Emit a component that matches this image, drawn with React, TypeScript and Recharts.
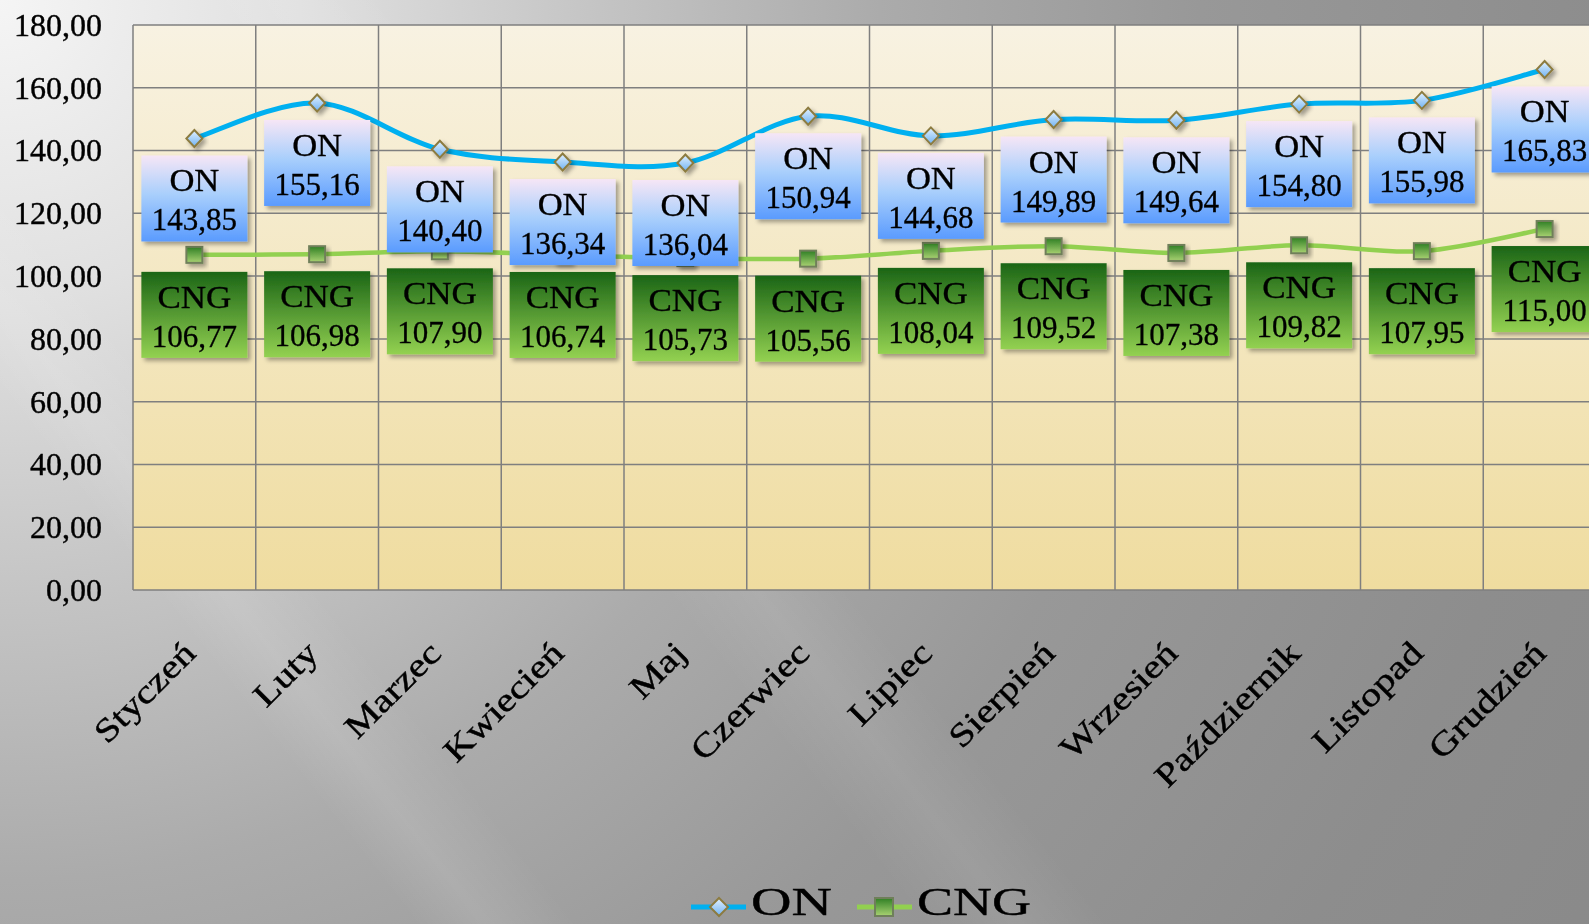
import React from 'react';
import { LineChart, Line, XAxis, YAxis, CartesianGrid, Legend, LabelList } from 'recharts';

const months = ['Styczeń', 'Luty', 'Marzec', 'Kwiecień', 'Maj', 'Czerwiec', 'Lipiec', 'Sierpień', 'Wrzesień', 'Październik', 'Listopad', 'Grudzień'];
const onValues = [143.85, 155.16, 140.40, 136.34, 136.04, 150.94, 144.68, 149.89, 149.64, 154.80, 155.98, 165.83];
const cngValues = [106.77, 106.98, 107.90, 106.74, 105.73, 105.56, 108.04, 109.52, 107.38, 109.82, 107.95, 115.00];
const yTicks = [0, 20, 40, 60, 80, 100, 120, 140, 160, 180];
const seriesNames = ['ON', 'CNG'];

const data = months.map((m, i) => ({ month: m, on: onValues[i], cng: cngValues[i] }));

const FONT = '"Liberation Serif", "Times New Roman", serif';
const fmt = (v: number) => v.toFixed(2).replace('.', ',');

// Excel-like smoothing (Catmull-Rom via cubic Bezier, tension 1/6)
const excelSmooth = (context: any) => {
  let pts: number[][] = [];
  return {
    areaStart() {},
    areaEnd() {},
    lineStart() { pts = []; },
    point(x: number, y: number) { pts.push([+x, +y]); },
    lineEnd() {
      if (!pts.length) return;
      context.moveTo(pts[0][0], pts[0][1]);
      for (let i = 0; i < pts.length - 1; i++) {
        const p0 = pts[i - 1] || pts[i];
        const p1 = pts[i];
        const p2 = pts[i + 1];
        const p3 = pts[i + 2] || p2;
        context.bezierCurveTo(
          p1[0] + (p2[0] - p0[0]) / 6, p1[1] + (p2[1] - p0[1]) / 6,
          p2[0] - (p3[0] - p1[0]) / 6, p2[1] - (p3[1] - p1[1]) / 6,
          p2[0], p2[1]
        );
      }
    },
  };
};

const YTick = (props: any) => {
  const { x, y, payload } = props;
  return (
    <text x={x} y={y} dy="0.34em" textAnchor="end" fontFamily={FONT} fontSize={32} fill="#000" stroke="#000" strokeWidth={0.4}>
      {fmt(payload.value)}
    </text>
  );
};

const XTick = (props: any) => {
  const { x, y, payload } = props;
  return (
    <g transform={`translate(${x + 3},${y + 65}) rotate(-45) scale(1.22,1)`}>
      <text x={0} y={0} textAnchor="end" fontFamily={FONT} fontSize={33} fill="#000" stroke="#000" strokeWidth={0.45}>
        {payload.value}
      </text>
    </g>
  );
};

const OnDot = (props: any) => {
  const { cx, cy, index } = props;
  if (cx == null || cy == null) return <g key={`ond-${index}`} />;
  return (
    <path
      key={`ond-${index}`}
      d={`M${cx},${cy - 8.5} L${cx + 8},${cy} L${cx},${cy + 8.5} L${cx - 8},${cy} Z`}
      fill="url(#diamondFill)"
      stroke="#8c7b40"
      strokeWidth={2}
      filter="url(#shadow)"
    />
  );
};

const CngDot = (props: any) => {
  const { cx, cy, index } = props;
  if (cx == null || cy == null) return <g key={`cngd-${index}`} />;
  return (
    <rect
      key={`cngd-${index}`}
      x={cx - 8}
      y={cy - 8}
      width={16}
      height={16}
      fill="url(#squareFill)"
      stroke="#6f7f5a"
      strokeWidth={2}
      filter="url(#shadow)"
    />
  );
};

const makeLabel = (name: string, grad: string, nameLen: number) => (props: any) => {
  const { x, y, value, index } = props;
  if (x == null || y == null) return null;
  const w = 106;
  const h = 86;
  const top = y + 17;
  const left = x - w / 2;
  return (
    <g key={`${name}-lbl-${index}`}>
      <rect x={left} y={top} width={w} height={h} fill={`url(#${grad})`} filter="url(#shadow)" />
      <text
        x={x}
        y={top + 36}
        textAnchor="middle"
        fontFamily={FONT}
        fontSize={31}
        fill="#000"
        stroke="#000"
        strokeWidth={0.3}
        textLength={nameLen}
        lengthAdjust="spacingAndGlyphs"
      >
        {name}
      </text>
      <text x={x} y={top + 75} textAnchor="middle" fontFamily={FONT} fontSize={31} fill="#000" stroke="#000" strokeWidth={0.3}>
        {fmt(Number(value))}
      </text>
    </g>
  );
};

const OnLabel = makeLabel('ON', 'onBox', 50);
const CngLabel = makeLabel('CNG', 'cngBox', 74);

const LegendContent = () => (
  <div style={{ height: 64, display: 'flex', justifyContent: 'center' }}>
    <svg width={342} height={64} style={{ display: 'block', overflow: 'visible' }}>
      <line x1={0} y1={47} x2={55} y2={47} stroke="#00b0f0" strokeWidth={5} />
      <path d="M28,38 L37,47 L28,56 L19,47 Z" fill="url(#diamondFill)" stroke="#8c7b40" strokeWidth={2} />
      <text x={60} y={55} fontFamily={FONT} fontSize={40} fill="#000" stroke="#000" strokeWidth={0.4} textLength={81} lengthAdjust="spacingAndGlyphs">
        {seriesNames[0]}
      </text>
      <line x1={166} y1={47} x2={221} y2={47} stroke="#92d050" strokeWidth={5} />
      <rect x={184} y={38} width={18} height={18} fill="url(#squareFill)" stroke="#6f7f5a" strokeWidth={2} />
      <text x={226} y={55} fontFamily={FONT} fontSize={40} fill="#000" stroke="#000" strokeWidth={0.4} textLength={114} lengthAdjust="spacingAndGlyphs">
        {seriesNames[1]}
      </text>
    </svg>
  </div>
);

export default function App() {
  return (
    <div
      style={{
        position: 'fixed',
        left: 0,
        top: 0,
        width: 1589,
        height: 924,
        overflow: 'hidden',
        background:
          'linear-gradient(52deg, rgba(255,255,255,0) 18%, rgba(255,255,255,0.10) 21%, rgba(255,255,255,0) 25%, rgba(255,255,255,0) 40%, rgba(255,255,255,0.08) 44%, rgba(255,255,255,0) 48%), radial-gradient(circle at 0% 0%, #f5f5f5 0px, #e0e0e0 300px, #c4c4c4 600px, #ababab 880px, #989898 1200px, #8d8d8d 1600px, #898989 1900px)',
      }}
    >
      <svg width={0} height={0} style={{ position: 'absolute' }}>
        <defs>
          <linearGradient id="diamondFill" x1="0" y1="0" x2="0" y2="1">
            <stop offset="0%" stopColor="#e4f2ff" />
            <stop offset="100%" stopColor="#6fb2f2" />
          </linearGradient>
          <linearGradient id="squareFill" x1="0" y1="0" x2="0" y2="1">
            <stop offset="0%" stopColor="#2f7f24" />
            <stop offset="100%" stopColor="#a9d272" />
          </linearGradient>
        </defs>
      </svg>
      <LineChart width={1724} height={924} data={data} margin={{ top: 25, right: 118, left: 0, bottom: 0 }}>
        <defs>
          <linearGradient id="plotBg" x1="0" y1="0" x2="0" y2="1">
            <stop offset="0%" stopColor="#f8f2e2" />
            <stop offset="100%" stopColor="#efdc9f" />
          </linearGradient>
          <linearGradient id="onBox" x1="0" y1="0" x2="0" y2="1">
            <stop offset="0%" stopColor="#f6e6f6" />
            <stop offset="45%" stopColor="#a9cffc" />
            <stop offset="100%" stopColor="#5a9bfe" />
          </linearGradient>
          <linearGradient id="cngBox" x1="0" y1="0" x2="0" y2="1">
            <stop offset="0%" stopColor="#1b6516" />
            <stop offset="100%" stopColor="#93d151" />
          </linearGradient>
          <filter id="shadow" x="-30%" y="-30%" width="170%" height="170%">
            <feDropShadow dx="3" dy="3" stdDeviation="2" floodColor="#000" floodOpacity="0.35" />
          </filter>
        </defs>
        <CartesianGrid
          stroke="#7f7f7f"
          strokeWidth={1.5}
          fill="url(#plotBg)"
          fillOpacity={1}
          verticalCoordinatesGenerator={({ offset }: any) =>
            months.map((_, i) => offset.left + (i * offset.width) / months.length).concat([offset.left + offset.width])
          }
        />
        <XAxis
          dataKey="month"
          scale="band"
          axisLine={false}
          tickLine={false}
          tickSize={0}
          tickMargin={0}
          height={270}
          interval={0}
          tick={<XTick />}
        />
        <YAxis
          domain={[0, 180]}
          ticks={yTicks}
          width={133}
          axisLine={false}
          tickLine={false}
          tickSize={0}
          tickMargin={31}
          interval={0}
          tick={<YTick />}
        />
        <Legend verticalAlign="bottom" content={() => <LegendContent />} wrapperStyle={{ left: 0, width: 1724 }} />
        <Line
          dataKey="on"
          name="ON"
          type={excelSmooth as any}
          stroke="#00b0f0"
          strokeWidth={5}
          dot={(p: any) => <OnDot {...p} />}
          activeDot={false}
          isAnimationActive={false}
        />
        <Line
          dataKey="cng"
          name="CNG"
          type={excelSmooth as any}
          stroke="#92d050"
          strokeWidth={4.5}
          dot={(p: any) => <CngDot {...p} />}
          activeDot={false}
          isAnimationActive={false}
        />
        <Line dataKey="on" stroke="none" dot={false} activeDot={false} legendType="none" isAnimationActive={false}>
          <LabelList dataKey="on" content={OnLabel} />
        </Line>
        <Line dataKey="cng" stroke="none" dot={false} activeDot={false} legendType="none" isAnimationActive={false}>
          <LabelList dataKey="cng" content={CngLabel} />
        </Line>
      </LineChart>
    </div>
  );
}
